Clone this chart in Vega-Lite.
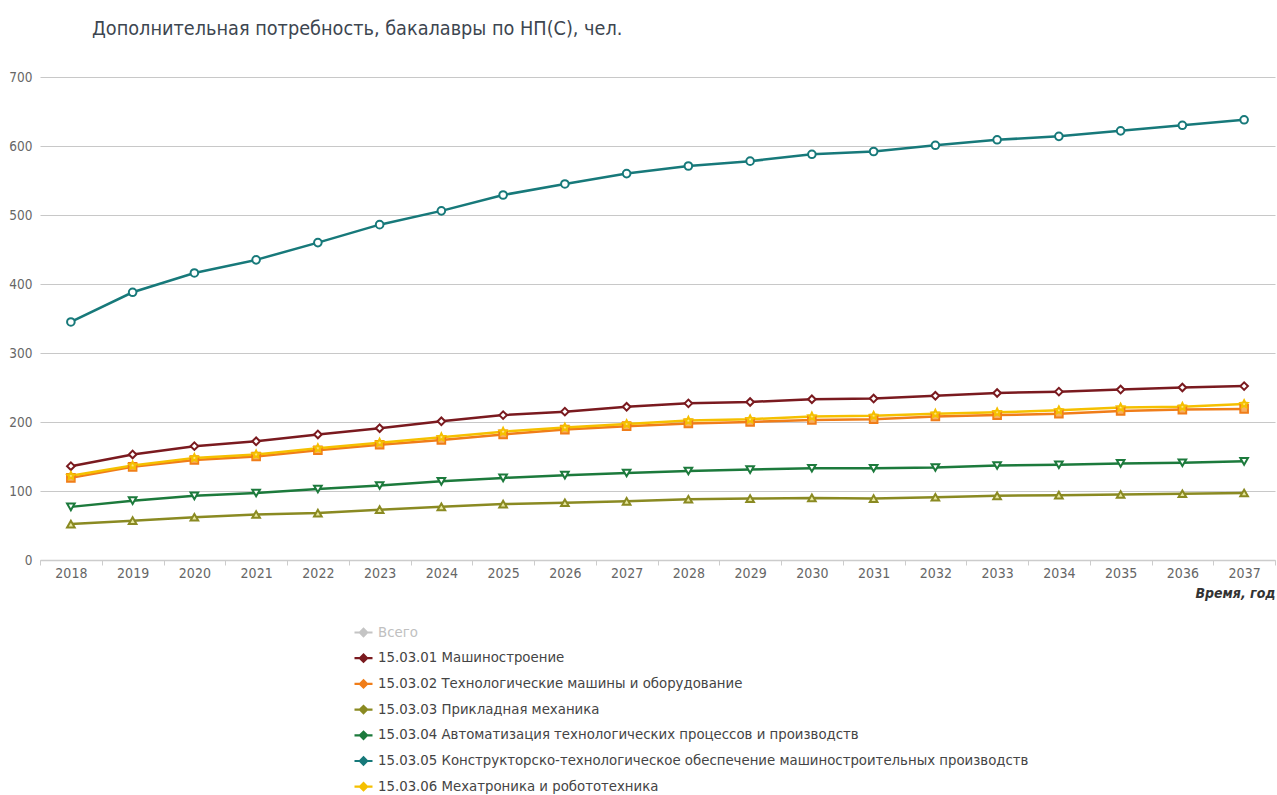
{
  "$schema": "https://vega.github.io/schema/vega-lite/v6.json",
  "autosize": {"type": "none"},
  "width": 1235,
  "height": 483,
  "padding": {"left": 40, "top": 77, "right": 2, "bottom": 235},
  "background": "white",
  "title": {
    "text": "Дополнительная потребность, бакалавры по НП(С), чел.",
    "anchor": "start",
    "frame": "group",
    "dx": 52,
    "offset": 31,
    "font": "DejaVu Sans Condensed",
    "fontSize": 19.7,
    "fontWeight": "normal",
    "color": "#3d4650"
  },
  "config": {
    "view": {"stroke": null},
    "font": "DejaVu Sans Condensed"
  },
  "datasets": {
    "main": [
      {"year": "2018", "series": "15.03.01 Машиностроение", "value": 136},
      {"year": "2019", "series": "15.03.01 Машиностроение", "value": 153},
      {"year": "2020", "series": "15.03.01 Машиностроение", "value": 165},
      {"year": "2021", "series": "15.03.01 Машиностроение", "value": 172},
      {"year": "2022", "series": "15.03.01 Машиностроение", "value": 182},
      {"year": "2023", "series": "15.03.01 Машиностроение", "value": 191},
      {"year": "2024", "series": "15.03.01 Машиностроение", "value": 201},
      {"year": "2025", "series": "15.03.01 Машиностроение", "value": 210},
      {"year": "2026", "series": "15.03.01 Машиностроение", "value": 215},
      {"year": "2027", "series": "15.03.01 Машиностроение", "value": 222},
      {"year": "2028", "series": "15.03.01 Машиностроение", "value": 227},
      {"year": "2029", "series": "15.03.01 Машиностроение", "value": 229},
      {"year": "2030", "series": "15.03.01 Машиностроение", "value": 233},
      {"year": "2031", "series": "15.03.01 Машиностроение", "value": 234},
      {"year": "2032", "series": "15.03.01 Машиностроение", "value": 238},
      {"year": "2033", "series": "15.03.01 Машиностроение", "value": 242},
      {"year": "2034", "series": "15.03.01 Машиностроение", "value": 244},
      {"year": "2035", "series": "15.03.01 Машиностроение", "value": 247},
      {"year": "2036", "series": "15.03.01 Машиностроение", "value": 250},
      {"year": "2037", "series": "15.03.01 Машиностроение", "value": 252},
      {"year": "2018", "series": "15.03.02 Технологические машины и оборудование", "value": 119},
      {"year": "2019", "series": "15.03.02 Технологические машины и оборудование", "value": 135},
      {"year": "2020", "series": "15.03.02 Технологические машины и оборудование", "value": 145},
      {"year": "2021", "series": "15.03.02 Технологические машины и оборудование", "value": 150},
      {"year": "2022", "series": "15.03.02 Технологические машины и оборудование", "value": 159},
      {"year": "2023", "series": "15.03.02 Технологические машины и оборудование", "value": 167},
      {"year": "2024", "series": "15.03.02 Технологические машины и оборудование", "value": 174},
      {"year": "2025", "series": "15.03.02 Технологические машины и оборудование", "value": 182},
      {"year": "2026", "series": "15.03.02 Технологические машины и оборудование", "value": 189},
      {"year": "2027", "series": "15.03.02 Технологические машины и оборудование", "value": 194},
      {"year": "2028", "series": "15.03.02 Технологические машины и оборудование", "value": 198},
      {"year": "2029", "series": "15.03.02 Технологические машины и оборудование", "value": 200},
      {"year": "2030", "series": "15.03.02 Технологические машины и оборудование", "value": 203},
      {"year": "2031", "series": "15.03.02 Технологические машины и оборудование", "value": 204},
      {"year": "2032", "series": "15.03.02 Технологические машины и оборудование", "value": 208},
      {"year": "2033", "series": "15.03.02 Технологические машины и оборудование", "value": 210},
      {"year": "2034", "series": "15.03.02 Технологические машины и оборудование", "value": 212},
      {"year": "2035", "series": "15.03.02 Технологические машины и оборудование", "value": 216},
      {"year": "2036", "series": "15.03.02 Технологические машины и оборудование", "value": 218},
      {"year": "2037", "series": "15.03.02 Технологические машины и оборудование", "value": 219},
      {"year": "2018", "series": "15.03.03 Прикладная механика", "value": 52},
      {"year": "2019", "series": "15.03.03 Прикладная механика", "value": 57},
      {"year": "2020", "series": "15.03.03 Прикладная механика", "value": 62},
      {"year": "2021", "series": "15.03.03 Прикладная механика", "value": 66},
      {"year": "2022", "series": "15.03.03 Прикладная механика", "value": 68},
      {"year": "2023", "series": "15.03.03 Прикладная механика", "value": 73},
      {"year": "2024", "series": "15.03.03 Прикладная механика", "value": 77},
      {"year": "2025", "series": "15.03.03 Прикладная механика", "value": 81},
      {"year": "2026", "series": "15.03.03 Прикладная механика", "value": 83},
      {"year": "2027", "series": "15.03.03 Прикладная механика", "value": 85},
      {"year": "2028", "series": "15.03.03 Прикладная механика", "value": 88},
      {"year": "2029", "series": "15.03.03 Прикладная механика", "value": 89},
      {"year": "2030", "series": "15.03.03 Прикладная механика", "value": 90},
      {"year": "2031", "series": "15.03.03 Прикладная механика", "value": 89},
      {"year": "2032", "series": "15.03.03 Прикладная механика", "value": 91},
      {"year": "2033", "series": "15.03.03 Прикладная механика", "value": 93},
      {"year": "2034", "series": "15.03.03 Прикладная механика", "value": 94},
      {"year": "2035", "series": "15.03.03 Прикладная механика", "value": 95},
      {"year": "2036", "series": "15.03.03 Прикладная механика", "value": 96},
      {"year": "2037", "series": "15.03.03 Прикладная механика", "value": 97},
      {"year": "2018", "series": "15.03.04 Автоматизация технологических процессов и производств", "value": 77},
      {"year": "2019", "series": "15.03.04 Автоматизация технологических процессов и производств", "value": 86},
      {"year": "2020", "series": "15.03.04 Автоматизация технологических процессов и производств", "value": 93},
      {"year": "2021", "series": "15.03.04 Автоматизация технологических процессов и производств", "value": 97},
      {"year": "2022", "series": "15.03.04 Автоматизация технологических процессов и производств", "value": 103},
      {"year": "2023", "series": "15.03.04 Автоматизация технологических процессов и производств", "value": 108},
      {"year": "2024", "series": "15.03.04 Автоматизация технологических процессов и производств", "value": 114},
      {"year": "2025", "series": "15.03.04 Автоматизация технологических процессов и производств", "value": 119},
      {"year": "2026", "series": "15.03.04 Автоматизация технологических процессов и производств", "value": 123},
      {"year": "2027", "series": "15.03.04 Автоматизация технологических процессов и производств", "value": 126},
      {"year": "2028", "series": "15.03.04 Автоматизация технологических процессов и производств", "value": 129},
      {"year": "2029", "series": "15.03.04 Автоматизация технологических процессов и производств", "value": 131},
      {"year": "2030", "series": "15.03.04 Автоматизация технологических процессов и производств", "value": 133},
      {"year": "2031", "series": "15.03.04 Автоматизация технологических процессов и производств", "value": 133},
      {"year": "2032", "series": "15.03.04 Автоматизация технологических процессов и производств", "value": 134},
      {"year": "2033", "series": "15.03.04 Автоматизация технологических процессов и производств", "value": 137},
      {"year": "2034", "series": "15.03.04 Автоматизация технологических процессов и производств", "value": 138},
      {"year": "2035", "series": "15.03.04 Автоматизация технологических процессов и производств", "value": 140},
      {"year": "2036", "series": "15.03.04 Автоматизация технологических процессов и производств", "value": 141},
      {"year": "2037", "series": "15.03.04 Автоматизация технологических процессов и производств", "value": 143},
      {"year": "2018", "series": "15.03.05 Конструкторско-технологическое обеспечение машиностроительных производств", "value": 345},
      {"year": "2019", "series": "15.03.05 Конструкторско-технологическое обеспечение машиностроительных производств", "value": 388},
      {"year": "2020", "series": "15.03.05 Конструкторско-технологическое обеспечение машиностроительных производств", "value": 416},
      {"year": "2021", "series": "15.03.05 Конструкторско-технологическое обеспечение машиностроительных производств", "value": 435},
      {"year": "2022", "series": "15.03.05 Конструкторско-технологическое обеспечение машиностроительных производств", "value": 460},
      {"year": "2023", "series": "15.03.05 Конструкторско-технологическое обеспечение машиностроительных производств", "value": 486},
      {"year": "2024", "series": "15.03.05 Конструкторско-технологическое обеспечение машиностроительных производств", "value": 506},
      {"year": "2025", "series": "15.03.05 Конструкторско-технологическое обеспечение машиностроительных производств", "value": 529},
      {"year": "2026", "series": "15.03.05 Конструкторско-технологическое обеспечение машиностроительных производств", "value": 545},
      {"year": "2027", "series": "15.03.05 Конструкторско-технологическое обеспечение машиностроительных производств", "value": 560},
      {"year": "2028", "series": "15.03.05 Конструкторско-технологическое обеспечение машиностроительных производств", "value": 571},
      {"year": "2029", "series": "15.03.05 Конструкторско-технологическое обеспечение машиностроительных производств", "value": 578},
      {"year": "2030", "series": "15.03.05 Конструкторско-технологическое обеспечение машиностроительных производств", "value": 588},
      {"year": "2031", "series": "15.03.05 Конструкторско-технологическое обеспечение машиностроительных производств", "value": 592},
      {"year": "2032", "series": "15.03.05 Конструкторско-технологическое обеспечение машиностроительных производств", "value": 601},
      {"year": "2033", "series": "15.03.05 Конструкторско-технологическое обеспечение машиностроительных производств", "value": 609},
      {"year": "2034", "series": "15.03.05 Конструкторско-технологическое обеспечение машиностроительных производств", "value": 614},
      {"year": "2035", "series": "15.03.05 Конструкторско-технологическое обеспечение машиностроительных производств", "value": 622},
      {"year": "2036", "series": "15.03.05 Конструкторско-технологическое обеспечение машиностроительных производств", "value": 630},
      {"year": "2037", "series": "15.03.05 Конструкторско-технологическое обеспечение машиностроительных производств", "value": 638},
      {"year": "2018", "series": "15.03.06 Мехатроника и робототехника", "value": 122},
      {"year": "2019", "series": "15.03.06 Мехатроника и робототехника", "value": 137},
      {"year": "2020", "series": "15.03.06 Мехатроника и робототехника", "value": 148},
      {"year": "2021", "series": "15.03.06 Мехатроника и робототехника", "value": 153},
      {"year": "2022", "series": "15.03.06 Мехатроника и робототехника", "value": 162},
      {"year": "2023", "series": "15.03.06 Мехатроника и робототехника", "value": 170},
      {"year": "2024", "series": "15.03.06 Мехатроника и робототехника", "value": 178},
      {"year": "2025", "series": "15.03.06 Мехатроника и робототехника", "value": 186},
      {"year": "2026", "series": "15.03.06 Мехатроника и робототехника", "value": 192},
      {"year": "2027", "series": "15.03.06 Мехатроника и робототехника", "value": 197},
      {"year": "2028", "series": "15.03.06 Мехатроника и робототехника", "value": 202},
      {"year": "2029", "series": "15.03.06 Мехатроника и робототехника", "value": 204},
      {"year": "2030", "series": "15.03.06 Мехатроника и робототехника", "value": 208},
      {"year": "2031", "series": "15.03.06 Мехатроника и робототехника", "value": 209},
      {"year": "2032", "series": "15.03.06 Мехатроника и робототехника", "value": 212},
      {"year": "2033", "series": "15.03.06 Мехатроника и робототехника", "value": 214},
      {"year": "2034", "series": "15.03.06 Мехатроника и робототехника", "value": 217},
      {"year": "2035", "series": "15.03.06 Мехатроника и робототехника", "value": 221},
      {"year": "2036", "series": "15.03.06 Мехатроника и робототехника", "value": 222},
      {"year": "2037", "series": "15.03.06 Мехатроника и робототехника", "value": 226}
    ]
  },
  "data": {"name": "main"},
  "encoding": {
    "x": {
      "field": "year",
      "type": "ordinal",
      "scale": {"type": "band", "paddingInner": 0, "paddingOuter": 0},
      "axis": {
        "title": "Время, год",
        "titleAnchor": "end",
        "titleFont": "DejaVu Sans Condensed",
        "titleFontSize": 14,
        "titleFontWeight": "bold",
        "titleFontStyle": "italic",
        "titleColor": "#333333",
        "titlePadding": 6,
        "labelAngle": 0,
        "labelFont": "DejaVu Sans Condensed",
        "labelFontSize": 14,
        "labelColor": "#666666",
        "labelPadding": 1,
        "tickBand": "extent",
        "tickColor": "#cccccc",
        "tickSize": 5,
        "domainColor": "#cccccc",
        "domainWidth": 1.5,
        "grid": false
      }
    },
    "y": {
      "field": "value",
      "type": "quantitative",
      "scale": {"domain": [0, 700], "nice": false},
      "axis": {
        "title": null,
        "values": [0, 100, 200, 300, 400, 500, 600, 700],
        "labelFont": "DejaVu Sans Condensed",
        "labelFontSize": 13.5,
        "labelColor": "#666666",
        "labelPadding": 8,
        "domain": false,
        "ticks": false,
        "gridColor": "#c8c8c8",
        "gridWidth": 1.2
      }
    }
  },
  "layer": [
    {
      "mark": {"type": "line", "strokeWidth": 2.5},
      "encoding": {
        "color": {
          "field": "series",
          "type": "nominal",
          "scale": {
            "domain": ["Всего", "15.03.01 Машиностроение", "15.03.02 Технологические машины и оборудование", "15.03.03 Прикладная механика", "15.03.04 Автоматизация технологических процессов и производств", "15.03.05 Конструкторско-технологическое обеспечение машиностроительных производств", "15.03.06 Мехатроника и робототехника"],
            "range": ["#c4c4c4", "#7a1a1f", "#f07d19", "#8a8a22", "#1c7a3c", "#17797a", "#f5c000"]
          },
          "legend": {
            "title": null,
            "orient": "none",
            "legendX": 313,
            "legendY": 545,
            "direction": "vertical",
            "labelFont": "DejaVu Sans Condensed",
            "labelFontSize": 14.8,
            "labelColor": "#444444",
            "labelLimit": 800,
            "labelOffset": 4,
            "rowPadding": 6.7,
            "symbolType": "M-1,0H1M0,-0.4L0.4,0L0,0.4L-0.4,0Z",
            "symbolSize": 324,
            "symbolStrokeWidth": 2.2,
            "encode": {
              "symbols": {"update": {"fill": {"scale": "color", "field": "value"}, "stroke": {"scale": "color", "field": "value"}}},
              "labels": {"update": {"fill": [{"test": "datum.value === 'Всего'", "value": "#c0c0c0"}, {"value": "#444444"}]}}
            }
          }
        }
      }
    },
    {
      "mark": {"type": "point", "size": 58, "strokeWidth": 2, "opacity": 1},
      "encoding": {
        "shape": {
          "field": "series",
          "type": "nominal",
          "scale": {
            "domain": ["15.03.01 Машиностроение", "15.03.02 Технологические машины и оборудование", "15.03.03 Прикладная механика", "15.03.04 Автоматизация технологических процессов и производств", "15.03.05 Конструкторско-технологическое обеспечение машиностроительных производств", "15.03.06 Мехатроника и робототехника"],
            "range": ["diamond", "square", "triangle-up", "triangle-down", "circle", "M0,-1L0.29,-0.4L0.95,-0.31L0.47,0.15L0.59,0.81L0,0.5L-0.59,0.81L-0.47,0.15L-0.95,-0.31L-0.29,-0.4Z"]
          },
          "legend": null
        },
        "stroke": {
          "field": "series",
          "type": "nominal",
          "scale": {
            "domain": ["15.03.01 Машиностроение", "15.03.02 Технологические машины и оборудование", "15.03.03 Прикладная механика", "15.03.04 Автоматизация технологических процессов и производств", "15.03.05 Конструкторско-технологическое обеспечение машиностроительных производств", "15.03.06 Мехатроника и робототехника"],
            "range": ["#7a1a1f", "#f07d19", "#8a8a22", "#1c7a3c", "#17797a", "#f5c000"]
          },
          "legend": null
        },
        "fill": {
          "field": "series",
          "type": "nominal",
          "scale": {
            "domain": ["15.03.01 Машиностроение", "15.03.02 Технологические машины и оборудование", "15.03.03 Прикладная механика", "15.03.04 Автоматизация технологических процессов и производств", "15.03.05 Конструкторско-технологическое обеспечение машиностроительных производств", "15.03.06 Мехатроника и робототехника"],
            "range": ["#ffffff", "#f7b060", "#e8e8a0", "#ffffff", "#ffffff", "#ffe680"]
          },
          "legend": null
        }
      }
    }
  ]
}
